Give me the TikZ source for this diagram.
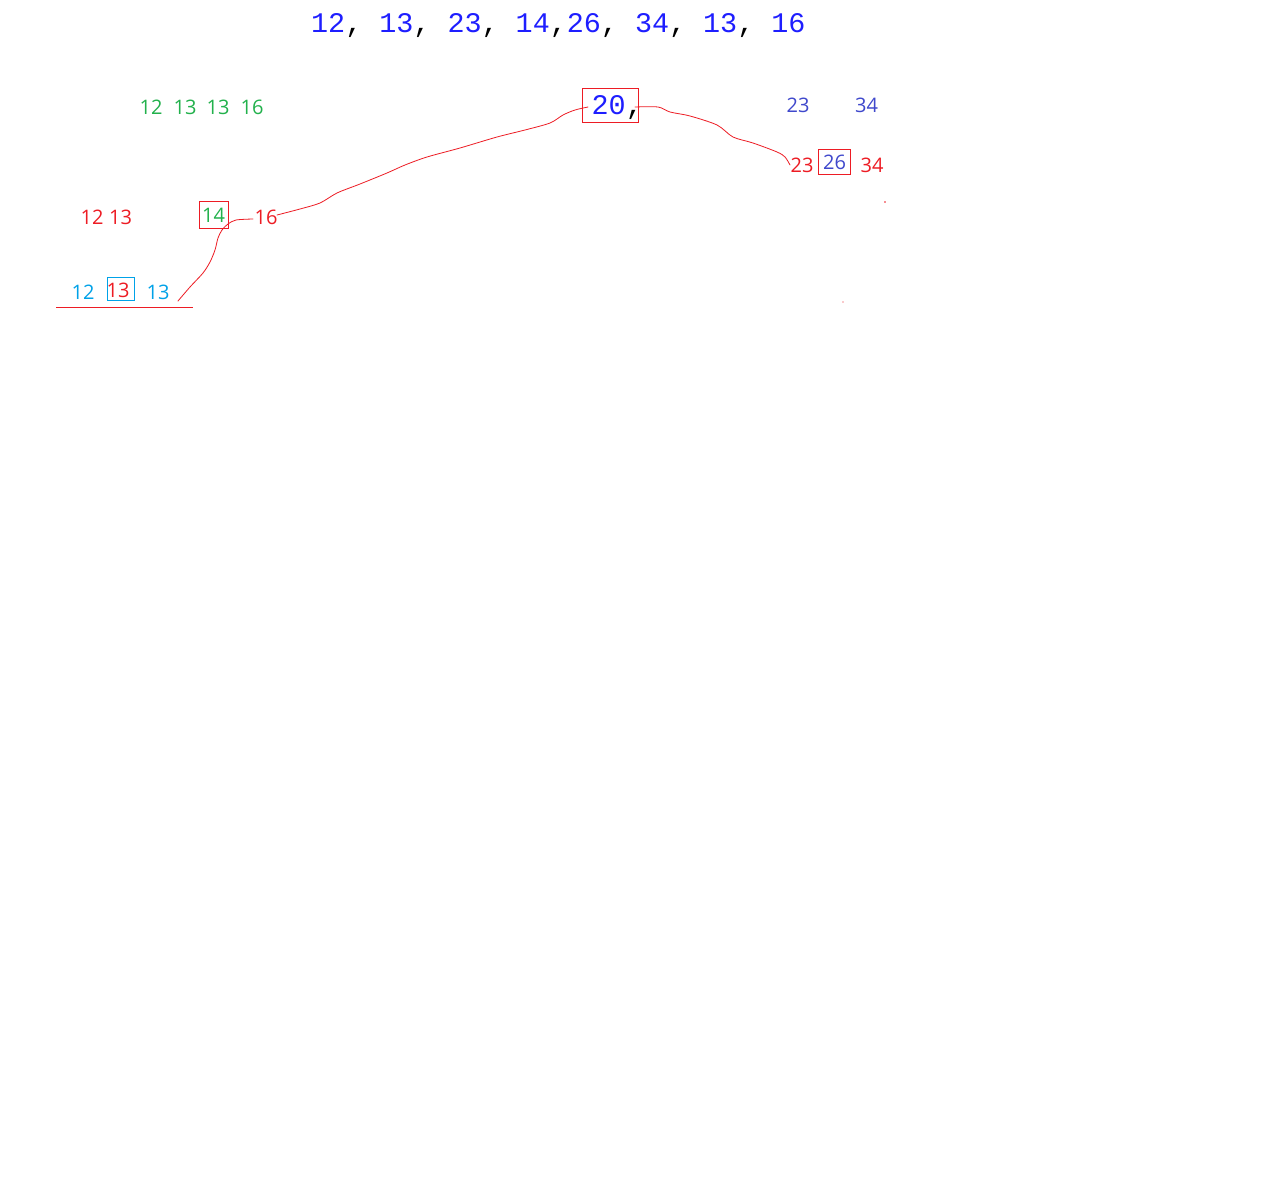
\documentclass[tikz,border=0pt]{standalone}
\usepackage{fontspec}
\setmainfont{Open Sans}
\newfontfamily\monof{Liberation Mono}
\definecolor{tb}{RGB}{30,30,255}
\definecolor{pgreen}{RGB}{34,177,76}
\definecolor{pred}{RGB}{237,28,36}
\definecolor{pindigo}{RGB}{63,72,204}
\definecolor{pturq}{RGB}{0,162,232}
\tikzset{
  lbl/.style={inner sep=0pt, anchor=base, font=\fontsize{20}{24}\selectfont},
  monotxt/.style={inner sep=0pt, font=\monof\fontsize{28.4}{34}\selectfont},
  hand/.style={draw=pred, line width=0.8pt, line join=round, line cap=round},
  boxr/.style={draw=pred, line width=0.9pt, inner sep=0pt},
  boxb/.style={draw=pturq, line width=0.9pt, inner sep=0pt}
}
\begin{document}
\begin{tikzpicture}[x=1pt,y=-1pt]
\useasboundingbox[fill=white] (0,0) rectangle (1274,1188);

% top row
\node[monotxt, anchor=base west] (toprow) at (311,33)
  {{\color{tb}12}, {\color{tb}13}, {\color{tb}23}, {\color{tb}14},{\color{tb}26}, {\color{tb}34}, {\color{tb}13}, {\color{tb}16}};

% 20, box
\node[boxr, minimum width=56pt, minimum height=34pt] (n20box) at (610,105) {};
\node[monotxt, anchor=base west] (n20) at (591.5,115) {{\color{tb}20},};

% green row
\node[lbl, text=pgreen] (g12) at (151,115) {12};
\node[lbl, text=pgreen] (g13a) at (185,115) {13};
\node[lbl, text=pgreen] (g13b) at (218,115) {13};
\node[lbl, text=pgreen] (g16) at (252,115) {16};

% red row
\node[lbl, text=pred] (r12) at (92,224) {12};
\node[lbl, text=pred] (r13) at (120.5,224) {13};
\node[boxr, minimum width=29pt, minimum height=27pt] (b14box) at (214,214.5) {};
\node[lbl, text=pgreen] (b14) at (213.5,222) {14};
\node[lbl, text=pred] (r16) at (266,224) {16};

% bottom row
\node[lbl, text=pturq] (c12) at (83,299) {12};
\node[boxb, minimum width=27pt, minimum height=23pt] (b13box) at (121,288.5) {};
\node[lbl, text=pred] (b13) at (118,297) {13};
\node[lbl, text=pturq] (c13) at (158,299) {13};
\coordinate (ulA) at (56,307);
\coordinate (ulB) at (193,307);
\draw[draw=pred, line width=0.9pt] (ulA) -- (ulB);

% right side
\node[lbl, text=pindigo] (i23) at (798,113) {23};
\node[lbl, text=pindigo] (i34) at (866.5,113) {34};
\node[lbl, text=pred] (r23) at (802,172) {23};
\node[boxr, minimum width=32pt, minimum height=25pt] (b26box) at (834,161.5) {};
\node[lbl, text=pindigo] (b26) at (834.5,169) {26};
\node[lbl, text=pred] (r34) at (872,172) {34};

% dots
\coordinate (dotA) at (885,202);
\coordinate (dotB) at (843,302);
\fill[pred] (dotA) circle (0.8pt);
\fill[pred] (dotB) circle (0.6pt);

% hand-drawn connectors
\coordinate (c1s) at (178,301);
\coordinate (c1e) at (253,219);
\draw[hand] plot[smooth, tension=0.5] coordinates {(c1s) (190,287) (203,273) (210,262) (215,250) (218,238) (222,230) (228,224) (236,220) (c1e)};
\coordinate (c2s) at (277,215);
\coordinate (c2e) at (588,107);
\draw[hand] plot[smooth, tension=0.5] coordinates {(c2s) (300,209) (320,203) (337,193) (360,184) (387,173) (405,165) (427,157) (460,148) (497,137) (525,130) (550,123) (563,115) (575,110) (c2e)};
\coordinate (c3s) at (635,107);
\coordinate (c3e) at (790,165);
\draw[hand] plot[smooth, tension=0.5] coordinates {(c3s) (658,107) (670,112) (690,116) (717,125) (733,137) (753,143) (777,152) (785,157) (c3e)};
\end{tikzpicture}
\end{document}
